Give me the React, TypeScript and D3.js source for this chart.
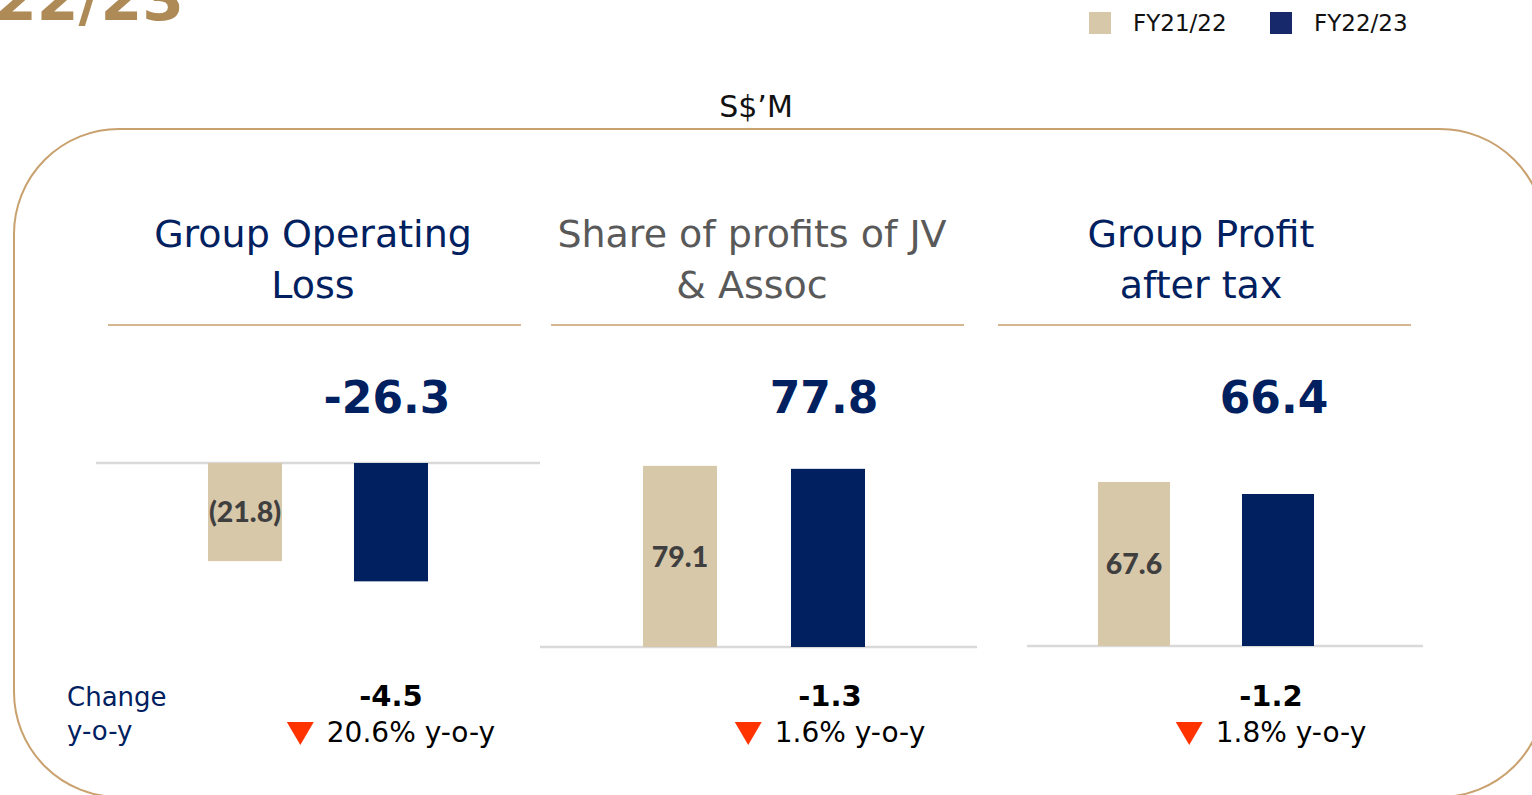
import * as d3 from 'd3';
import { useEffect, useRef } from 'react';

const series = ['FY21/22', 'FY22/23'];
const titles = [
  ['Group Operating', 'Loss'],
  ['Share of profits of JV', '& Assoc'],
  ['Group Profit', 'after tax'],
];
const prevYear = [-21.8, 79.1, 67.6];
const currYear = [-26.3, 77.8, 66.4];
const prevLabels = ['(21.8)', '79.1', '67.6'];
const currLabels = ['-26.3', '77.8', '66.4'];
const changeAbs = ['-4.5', '-1.3', '-1.2'];
const changePct = ['20.6%', '1.6%', '1.8%'];

const NAVY = '#002060';
const TAN = '#D8C8AA';
const GOLD = '#C9A16E';
const RULE = '#D5B690';
const FONT = "'DejaVu Sans', Verdana, sans-serif";

// layout of the three panels (each has its own scale, like the slide)
const panels = [
  { band: [172, 464], pad: 0.493, axis: [96, 540], dom: [0, -30], rng: [463, 598], rule: [108, 521], titleX: 313, titleColor: NAVY, chgX: 391 },
  { band: [606, 902], pad: 0.5, axis: [540, 977], dom: [0, 80], rng: [647, 463.8], rule: [551, 964], titleX: 752, titleColor: '#595959', chgX: 830 },
  { band: [1062, 1350], pad: 0.5, axis: [1027, 1423], dom: [51.2, 71.2], rng: [646, 446], rule: [998, 1411], titleX: 1201, titleColor: NAVY, chgX: 1271 },
];

const App = () => {
  const ref = useRef<SVGSVGElement | null>(null);

  useEffect(() => {
    if (!ref.current) return;
    const svg = d3.select(ref.current);
    svg.selectAll('*').remove();

    // cropped slide heading
    svg.append('text')
      .attr('x', 184).attr('y', 20)
      .attr('text-anchor', 'end')
      .attr('font-family', FONT).attr('font-weight', 'bold').attr('font-size', 60)
      .attr('fill', '#AD8A56')
      .text('FY22/23');

    // legend
    const legX = [1089, 1270];
    series.forEach((s, i) => {
      svg.append('rect')
        .attr('x', legX[i]).attr('y', 12).attr('width', 22).attr('height', 22)
        .attr('fill', i === 0 ? TAN : '#17296A');
      svg.append('text')
        .attr('x', legX[i] + 44).attr('y', 31)
        .attr('font-family', FONT).attr('font-size', 23).attr('fill', '#111')
        .text(s);
    });

    svg.append('text')
      .attr('x', 756).attr('y', 117).attr('text-anchor', 'middle')
      .attr('font-family', FONT).attr('font-size', 30).attr('fill', '#111')
      .text('S$’M');

    // rounded frame
    svg.append('rect')
      .attr('x', 14).attr('y', 129).attr('width', 1531).attr('height', 668).attr('rx', 105)
      .attr('fill', 'none').attr('stroke', GOLD).attr('stroke-width', 2);

    panels.forEach((p, i) => {
      const g = svg.append('g');

      titles[i].forEach((line, j) => {
        g.append('text')
          .attr('x', p.titleX).attr('y', 247 + j * 51)
          .attr('text-anchor', 'middle')
          .attr('font-family', FONT).attr('font-size', 38)
          .attr('fill', p.titleColor)
          .text(line);
      });

      g.append('line')
        .attr('x1', p.rule[0]).attr('x2', p.rule[1]).attr('y1', 325).attr('y2', 325)
        .attr('stroke', RULE).attr('stroke-width', 2);

      const x = d3.scaleBand().domain(series).range(p.band as [number, number])
        .paddingInner(p.pad).paddingOuter(p.pad / 2);
      const y = d3.scaleLinear().domain(p.dom).range(p.rng);
      const base = y(p.dom[0]);
      const vals = [prevYear[i], currYear[i]];

      g.append('line')
        .attr('x1', p.axis[0]).attr('x2', p.axis[1]).attr('y1', base).attr('y2', base)
        .attr('stroke', '#D9D9D9').attr('stroke-width', 2.5);

      g.selectAll('.bar')
        .data(vals)
        .enter()
        .append('rect')
        .attr('x', (_, k) => x(series[k]) || 0)
        .attr('y', d => Math.min(base, y(d)))
        .attr('width', x.bandwidth())
        .attr('height', d => Math.abs(y(d) - base))
        .attr('fill', (_, k) => (k === 0 ? TAN : NAVY));

      const cx0 = (x(series[0]) || 0) + x.bandwidth() / 2;
      const cx1 = (x(series[1]) || 0) + x.bandwidth() / 2;

      g.append('text')
        .attr('x', cx0).attr('y', (base + y(prevYear[i])) / 2)
        .attr('dy', '0.36em')
        .attr('text-anchor', 'middle')
        .attr('font-family', 'Lato, sans-serif').attr('font-weight', 900).attr('font-size', 28.5)
        .attr('fill', '#3F3F3F')
        .text(prevLabels[i]);

      g.append('text')
        .attr('x', cx1 - 4).attr('y', 413)
        .attr('text-anchor', 'middle')
        .attr('font-family', FONT).attr('font-weight', 'bold').attr('font-size', 44)
        .attr('fill', NAVY)
        .text(currLabels[i]);

      // change y-o-y
      g.append('text')
        .attr('x', p.chgX).attr('y', 706)
        .attr('text-anchor', 'middle')
        .attr('font-family', FONT).attr('font-weight', 'bold').attr('font-size', 29)
        .attr('fill', '#000')
        .text(changeAbs[i]);

      const pct = g.append('text')
        .attr('y', 742)
        .attr('font-family', FONT).attr('font-size', 28)
        .attr('fill', '#000')
        .text(`${changePct[i]} y-o-y`);
      const w = (pct.node() as SVGTextElement).getComputedTextLength();
      const start = p.chgX - (27 + 13 + w) / 2;
      pct.attr('x', start + 40);
      g.append('path')
        .attr('d', `M${start},722 L${start + 27},722 L${start + 13.5},745 Z`)
        .attr('fill', '#FF3300');
    });

    svg.append('text')
      .attr('x', 67).attr('y', 706)
      .attr('font-family', FONT).attr('font-size', 26).attr('fill', NAVY)
      .text('Change');
    svg.append('text')
      .attr('x', 67).attr('y', 740)
      .attr('font-family', FONT).attr('font-size', 26).attr('fill', NAVY)
      .text('y-o-y');
  }, []);

  return (
    <svg
      ref={ref}
      width={1532}
      height={795}
      style={{ position: 'absolute', left: 0, top: 0, background: '#fff', display: 'block' }}
    />
  );
};

export default App;
